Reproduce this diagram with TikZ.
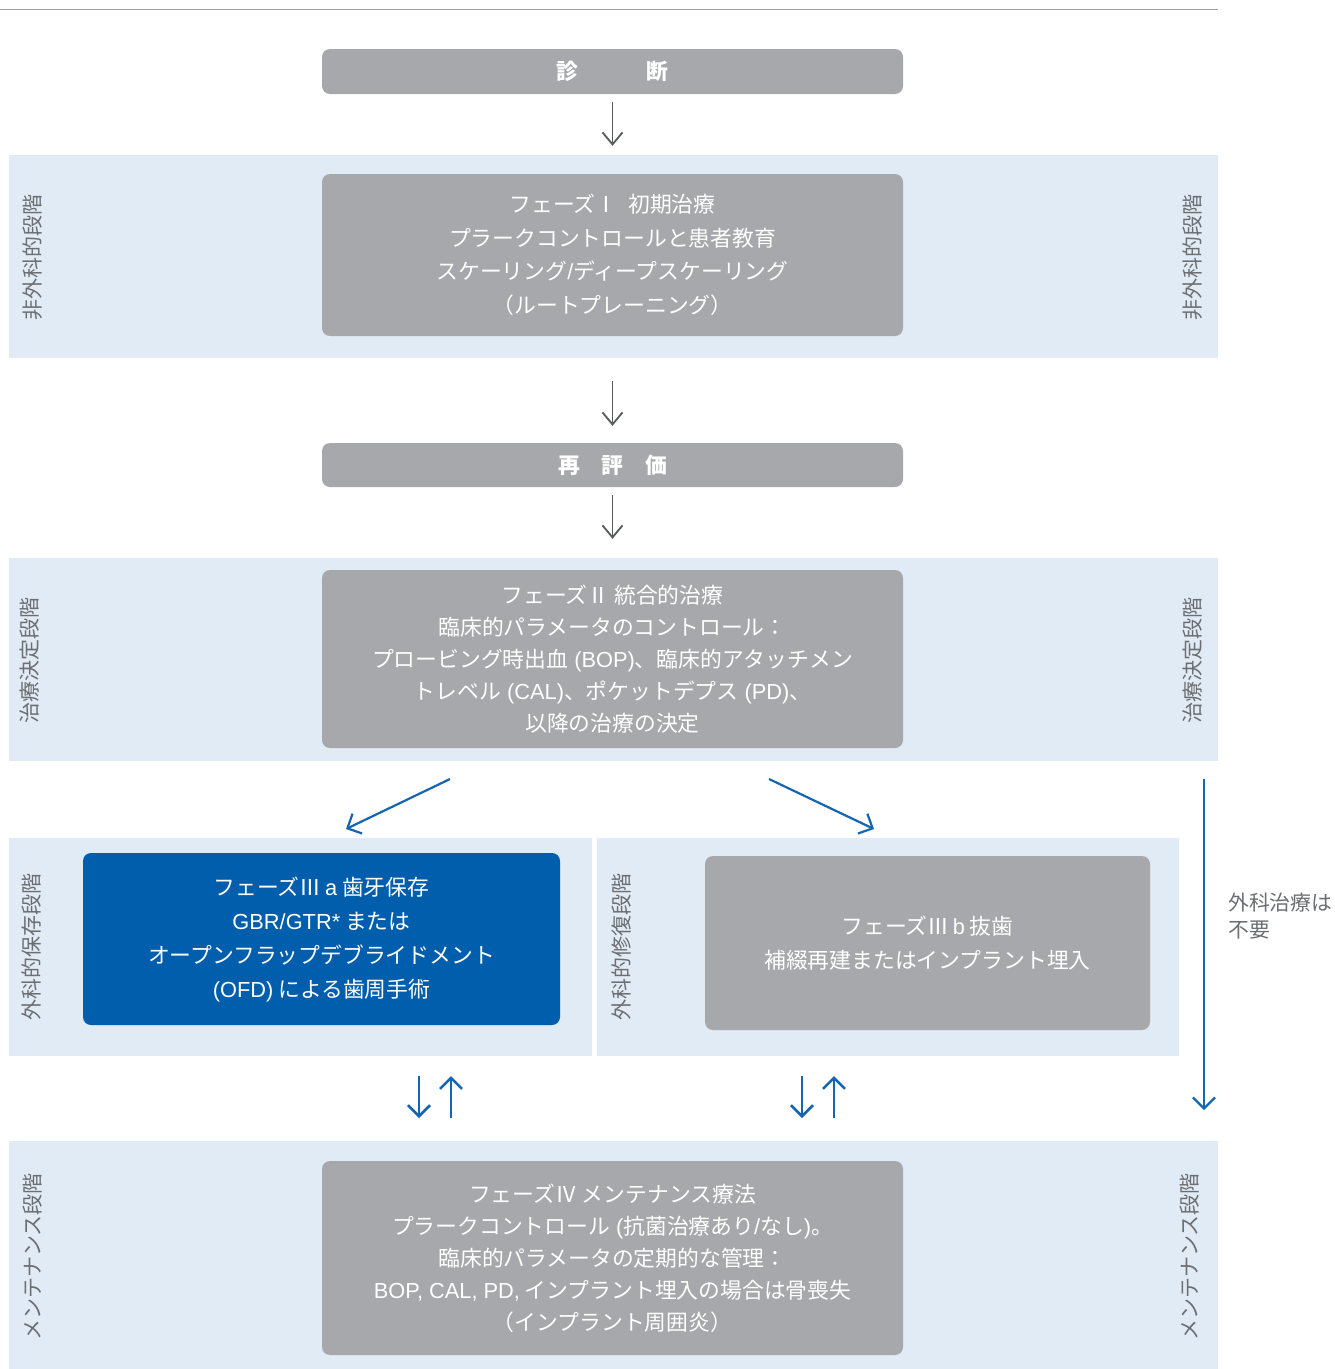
\documentclass[tikz,border=0pt]{standalone}
\usepackage{fontspec}
\setmainfont{Noto Sans CJK JP}
\newfontfamily\lat{Liberation Sans}
\newfontfamily\fw[RawFeature=+fwid]{Noto Sans CJK JP}
\newcommand{\rn}[1]{{\fw #1}}
\usetikzlibrary{arrows.meta}
\definecolor{boxgray}{HTML}{A7A8AB}
\definecolor{bandblue}{HTML}{E1EBF5}
\definecolor{pblue}{HTML}{005EAC}
\definecolor{ablue}{HTML}{1565B2}
\definecolor{arrgray}{HTML}{58595B}
\definecolor{lblgray}{HTML}{6D6E71}
\definecolor{topline}{HTML}{9D9FA2}
\tikzset{
  x=1pt, y=-1pt,
  bandbox/.style={fill=bandblue, draw=none, inner sep=0pt, outer sep=0pt},
  gbox/.style={fill=boxgray, rounded corners=8pt, text=white, align=center,
     inner sep=0pt, font=\fontsize{21.8}{33.5}\selectfont},
  bbox/.style={gbox, fill=pblue, font=\fontsize{21.8}{34}\selectfont},
  side/.style={rotate=90, text=lblgray, inner sep=0pt, font=\fontsize{21}{24}\selectfont},
  garrow/.style={draw=arrgray, line width=1.8pt, -{Straight Barb[length=12pt,width=20pt]}},
  barrow/.style={draw=ablue, line width=2.6pt, -{Straight Barb[length=11pt,width=22pt]}},
}
\begin{document}
\begin{tikzpicture}
\useasboundingbox (0,0) rectangle (1335,1369);
\fill[white] (0,0) rectangle (1335,1369);
% top rule
\draw[topline, line width=1pt] (0,9) -- (1218,9);
% bands
\node[bandbox, minimum width=1209pt, minimum height=203pt] (b1) at (613.5,256.5) {};
\node[bandbox, minimum width=1209pt, minimum height=203pt] (b2) at (613.5,659.5) {};
\node[bandbox, minimum width=583pt, minimum height=218pt] (b3l) at (300.5,947) {};
\node[bandbox, minimum width=582pt, minimum height=218pt] (b3r) at (888,947) {};
\node[bandbox, minimum width=1209pt, minimum height=228pt] (b4) at (613.5,1255) {};
% boxes
\node[gbox, minimum width=581pt, minimum height=45pt] (diag) at (612.5,71.5) {\bfseries 診\hspace{3.1em}断};
\node[gbox, minimum width=581pt, minimum height=162pt] (p1) at (612.5,255)
  {フェーズ\rn{Ⅰ}\hspace{0.5em}初期治療\\プラークコントロールと患者教育\\スケーリング{\lat /}ディープスケーリング\\（ルートプレーニング）};
\node[gbox, minimum width=581pt, minimum height=44pt] (reval) at (612.5,465) {\bfseries 再\hspace{1em}評\hspace{1em}価};
\node[gbox, minimum width=581pt, minimum height=178pt, font=\fontsize{21.8}{32}\selectfont] (p2) at (612.5,659)
  {フェーズ\rn{Ⅱ} 統合的治療\\臨床的パラメータのコントロール：\\プロービング時出血{\lat\ (BOP)}、臨床的アタッチメン\\トレベル{\lat\ (CAL)}、ポケットデプス{\lat\ (PD)}、\\以降の治療の決定};
\node[bbox, minimum width=477pt, minimum height=172pt] (p3a) at (321.5,939)
  {フェーズ\rn{Ⅲ}{\lat\,a} 歯牙保存\\{\lat GBR/GTR*} または\\オープンフラップデブライドメント\\{\lat (OFD)} による歯周手術};
\node[gbox, minimum width=445pt, minimum height=174pt, font=\fontsize{21.8}{34}\selectfont] (p3b) at (927.5,943)
  {フェーズ\rn{Ⅲ}{\lat\,b} 抜歯\\補綴再建またはインプラント埋入};
\node[gbox, minimum width=581pt, minimum height=194pt, font=\fontsize{21.8}{32}\selectfont] (p4) at (612.5,1258)
  {フェーズ\rn{Ⅳ} メンテナンス療法\\プラークコントロール{\lat\ (}抗菌治療あり{\lat /}なし{\lat )}。\\臨床的パラメータの定期的な管理：\\{\lat BOP, CAL, PD,} インプラント埋入の場合は骨喪失\\（インプラント周囲炎）};
% side labels
\node[side] (l1l) at (33,257) {非外科的段階};
\node[side] (l1r) at (1193,257) {非外科的段階};
\node[side] (l2l) at (30,660) {治療決定段階};
\node[side] (l2r) at (1193,660) {治療決定段階};
\node[side] (l3l) at (31,947) {外科的保存段階};
\node[side] (l3r) at (622,947) {外科的修復段階};
\node[side] (l4l) at (33,1257) {メンテナンス段階};
\node[side] (l4r) at (1190,1257) {メンテナンス段階};
\node[anchor=north west, align=left, text=lblgray, inner sep=0pt,
  font=\fontsize{20.8}{27}\selectfont] (nosurg) at (1228,893) {外科治療は\\不要};
% gray arrows
\draw[garrow, shorten <=8pt, shorten >=28pt] (diag.south) -- (p1.north);
\draw[garrow, shorten <=45pt, shorten >=17pt] (p1.south) -- (reval.north);
\draw[garrow, shorten <=8pt, shorten >=31pt] (reval.south) -- (p2.north);
% blue arrows
\coordinate (d1s) at (450,779);
\coordinate (d1e) at (346,829);
\coordinate (d2s) at (769,779);
\coordinate (d2e) at (874,829);
\draw[barrow, line width=2.2pt] (d1s) -- (d1e);
\draw[barrow, line width=2.2pt] (d2s) -- (d2e);
\coordinate (ls) at (1204,779);
\coordinate (le) at (1204,1110);
\draw[barrow, line width=2.2pt] (ls) -- (le);
\coordinate (u1a) at (419,1076);
\coordinate (u1b) at (419,1118);
\coordinate (u2a) at (451,1118);
\coordinate (u2b) at (451,1076);
\coordinate (v1a) at (802,1076);
\coordinate (v1b) at (802,1118);
\coordinate (v2a) at (834,1118);
\coordinate (v2b) at (834,1076);
\draw[barrow] (u1a) -- (u1b);
\draw[barrow] (u2a) -- (u2b);
\draw[barrow] (v1a) -- (v1b);
\draw[barrow] (v2a) -- (v2b);
\end{tikzpicture}
\end{document}
